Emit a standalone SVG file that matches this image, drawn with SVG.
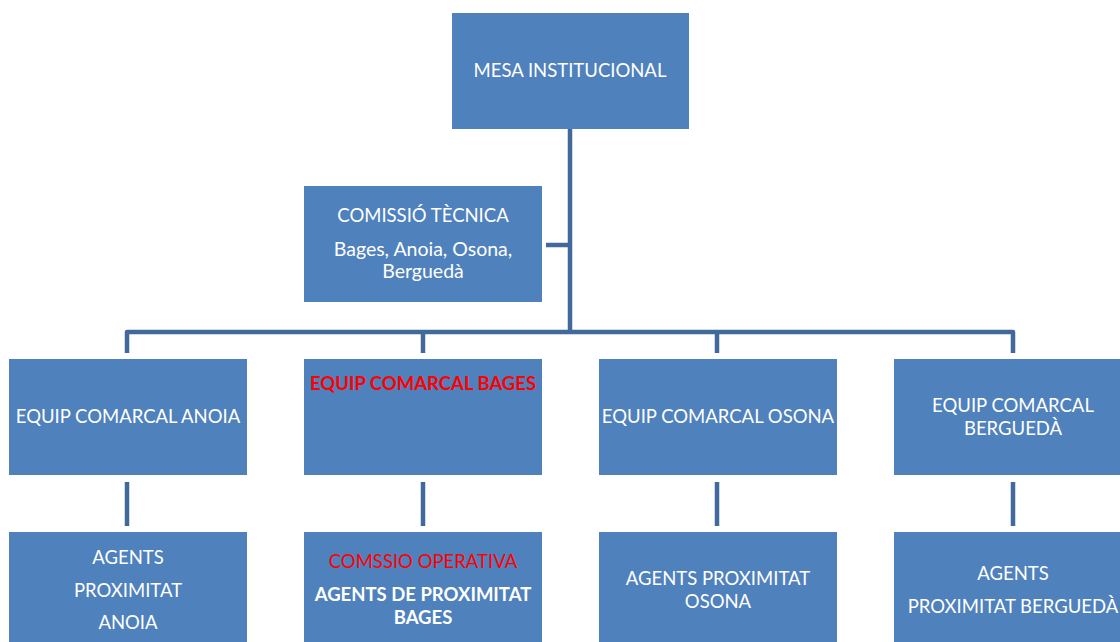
<svg xmlns="http://www.w3.org/2000/svg" width="1120" height="642" viewBox="0 0 1120 642">
<style>
.box{fill:#4F81BD;}
.t{font-family:Lato,"Liberation Sans",sans-serif;font-size:18.5px;fill:#ffffff;text-anchor:middle;}
.m{font-size:19.5px;}
.b{font-weight:bold;}
.red{fill:#ff0000;}
.con{stroke:#41699B;stroke-width:4.5;fill:none;stroke-linejoin:round;}
</style>
<rect width="1120" height="642" fill="#ffffff"/>
<g id="connectors">
<path class="con" d="M570 129 V332"/>
<path class="con" d="M546 245 H570"/>
<path class="con" d="M127 353 V332 H1013 V353"/>
<path class="con" d="M423 332 V353"/>
<path class="con" d="M717 332 V353"/>
<path class="con" d="M127 482 V526"/>
<path class="con" d="M423 482 V526"/>
<path class="con" d="M717 482 V526"/>
<path class="con" d="M1013 482 V526"/>
</g>
<g id="mesa">
<rect class="box" x="452" y="13" width="237" height="116"/>
<text class="t" x="570" y="77">MESA INSTITUCIONAL</text>
</g>
<g id="comissio">
<rect class="box" x="304" y="186" width="238" height="116"/>
<text class="t" x="423" y="222">COMISSIÓ TÈCNICA</text>
<text class="t m" x="423" y="256">Bages, Anoia, Osona,</text>
<text class="t m" x="423" y="278">Berguedà</text>
</g>
<g id="equip-anoia">
<rect class="box" x="9" y="359" width="238" height="116"/>
<text class="t" x="128" y="423">EQUIP COMARCAL ANOIA</text>
</g>
<g id="equip-bages">
<rect class="box" x="304" y="359" width="238" height="116"/>
<text class="t b red" x="423" y="390">EQUIP COMARCAL BAGES</text>
</g>
<g id="equip-osona">
<rect class="box" x="599" y="359" width="238" height="116"/>
<text class="t" x="718" y="423">EQUIP COMARCAL OSONA</text>
</g>
<g id="equip-bergueda">
<rect class="box" x="894" y="359" width="238" height="116"/>
<text class="t" x="1013" y="412">EQUIP COMARCAL</text>
<text class="t" x="1013" y="435">BERGUEDÀ</text>
</g>
<g id="agents-anoia">
<rect class="box" x="9" y="532" width="238" height="116"/>
<text class="t" x="128" y="564">AGENTS</text>
<text class="t" x="128" y="597">PROXIMITAT</text>
<text class="t" x="128" y="629">ANOIA</text>
</g>
<g id="agents-bages">
<rect class="box" x="304" y="532" width="238" height="116"/>
<text class="t red" x="423" y="568">COMSSIO OPERATIVA</text>
<text class="t b" x="423" y="601">AGENTS DE PROXIMITAT</text>
<text class="t b" x="423" y="624">BAGES</text>
</g>
<g id="agents-osona">
<rect class="box" x="599" y="532" width="238" height="116"/>
<text class="t" x="718" y="585">AGENTS PROXIMITAT</text>
<text class="t" x="718" y="608">OSONA</text>
</g>
<g id="agents-bergueda">
<rect class="box" x="894" y="532" width="238" height="116"/>
<text class="t" x="1013" y="580">AGENTS</text>
<text class="t" x="1013" y="613">PROXIMITAT BERGUEDÀ</text>
</g>
</svg>
